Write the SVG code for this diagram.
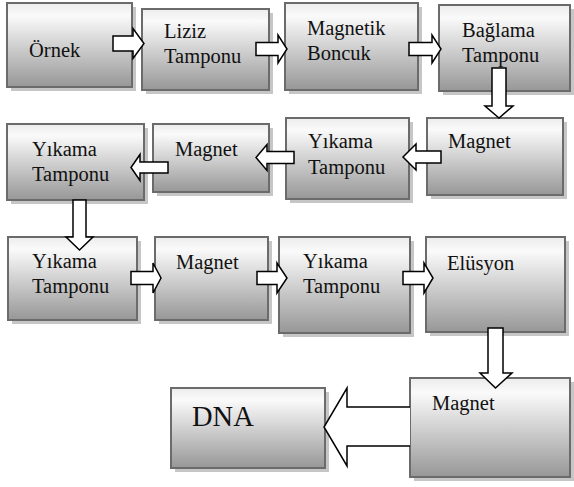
<svg xmlns="http://www.w3.org/2000/svg" width="574" height="487" viewBox="0 0 574 487" font-family="Liberation Serif, Times New Roman, serif" font-size="20.5">
<defs>
<linearGradient id="g" x1="0" y1="0" x2="0" y2="1">
<stop offset="0" stop-color="#ececec"/>
<stop offset="0.15" stop-color="#fafafa"/>
<stop offset="1" stop-color="#979797"/>
</linearGradient>
<style>
.sh{fill:#c6c6c6}
.bx{fill:url(#g);stroke:#6b6b6b;stroke-width:2}
.t{font-family:Liberation Serif, Times New Roman, serif;font-size:20.5px;fill:#111}
.big{font-size:28.5px}
.ar{fill:#fff;stroke:#000;stroke-width:1.5;stroke-linejoin:miter}
</style>
</defs>
<rect width="574" height="487" fill="#fff"/>
<g id="n1"><rect class="sh" x="11" y="7" width="125" height="84"/><rect class="bx" x="7" y="3" width="125" height="84"/><text class="t" x="29" y="57">Örnek</text></g>
<g id="n2"><rect class="sh" x="146" y="13" width="127" height="81"/><rect class="bx" x="142" y="9" width="127" height="81"/><text class="t" x="164" y="38">Liziz</text><text class="t" x="164" y="63">Tamponu</text></g>
<g id="n3"><rect class="sh" x="289" y="7" width="133" height="87"/><rect class="bx" x="285" y="3" width="133" height="87"/><text class="t" x="307" y="35">Magnetik</text><text class="t" x="307" y="60">Boncuk</text></g>
<g id="n4"><rect class="sh" x="443" y="9" width="131" height="86"/><rect class="bx" x="439" y="5" width="131" height="86"/><text class="t" x="462" y="37">Bağlama</text><text class="t" x="462" y="62">Tamponu</text></g>
<g id="n5"><rect class="sh" x="431" y="122" width="136" height="77"/><rect class="bx" x="427" y="118" width="136" height="77"/><text class="t" x="448" y="148">Magnet</text></g>
<g id="n6"><rect class="sh" x="290" y="122" width="123" height="81"/><rect class="bx" x="286" y="118" width="123" height="81"/><text class="t" x="308" y="148">Yıkama</text><text class="t" x="308" y="174">Tamponu</text></g>
<g id="n7"><rect class="sh" x="157" y="128" width="116" height="68"/><rect class="bx" x="153" y="124" width="116" height="68"/><text class="t" x="175" y="156">Magnet</text></g>
<g id="n8"><rect class="sh" x="11" y="128" width="137" height="76"/><rect class="bx" x="7" y="124" width="137" height="76"/><text class="t" x="32" y="156">Yıkama</text><text class="t" x="32" y="181">Tamponu</text></g>
<g id="n9"><rect class="sh" x="12" y="241" width="129" height="83"/><rect class="bx" x="8" y="237" width="129" height="83"/><text class="t" x="32" y="268">Yıkama</text><text class="t" x="32" y="293">Tamponu</text></g>
<g id="n10"><rect class="sh" x="159" y="241" width="113" height="83"/><rect class="bx" x="155" y="237" width="113" height="83"/><text class="t" x="176" y="269">Magnet</text></g>
<g id="n11"><rect class="sh" x="283" y="241" width="131" height="96"/><rect class="bx" x="279" y="237" width="131" height="96"/><text class="t" x="303" y="268">Yıkama</text><text class="t" x="303" y="293">Tamponu</text></g>
<g id="n12"><rect class="sh" x="430" y="241" width="139" height="95"/><rect class="bx" x="426" y="237" width="139" height="95"/><text class="t" x="447" y="270">Elüsyon</text></g>
<g id="n13"><rect class="sh" x="414" y="382" width="160" height="99"/><rect class="bx" x="410" y="378" width="160" height="99"/><text class="t" x="432" y="410">Magnet</text></g>
<g id="n14"><rect class="sh" x="175" y="392" width="154" height="80"/><rect class="bx" x="171" y="388" width="154" height="80"/><text class="t big" x="192" y="426">DNA</text></g>
<g id="connectors">
<polygon class="ar" points="113,36 133,36 133,28.5 144,43.5 133,58.5 133,51 113,51"/>
<polygon class="ar" points="256,42.5 278,42.5 278,35 287,49 278,63 278,55.5 256,55.5"/>
<polygon class="ar" points="409,42.5 432,42.5 432,35 441,49 432,63 432,55.5 409,55.5"/>
<polygon class="ar" points="492,68 506,68 506,106 513,106 499,118 485,106 492,106"/>
<polygon class="ar" points="441,151 416,151 416,144 403,157 416,170 416,163 441,163"/>
<polygon class="ar" points="294,151.5 267,151.5 267,144.5 256,157.5 267,170.5 267,163.5 294,163.5"/>
<polygon class="ar" points="168,162 140,162 140,154.5 131,167.5 140,180.5 140,173 168,173"/>
<polygon class="ar" points="73,200 86,200 86,237 93,237 79.5,250 66,237 73,237"/>
<polygon class="ar" points="131,271.5 153,271.5 153,263 161,278 153,293 153,284.5 131,284.5"/>
<polygon class="ar" points="257,271.5 277,271.5 277,263 287,278 277,293 277,284.5 257,284.5"/>
<polygon class="ar" points="403,271.5 424,271.5 424,263 433,278 424,293 424,284.5 403,284.5"/>
<polygon class="ar" points="488,328 503,328 503,373 512,373 495.5,388 480,373 488,373"/>
<polyline class="ar" points="410,407 347,407 347,388 324,427 347,466 347,446 410,446"/>
</g>
</svg>
